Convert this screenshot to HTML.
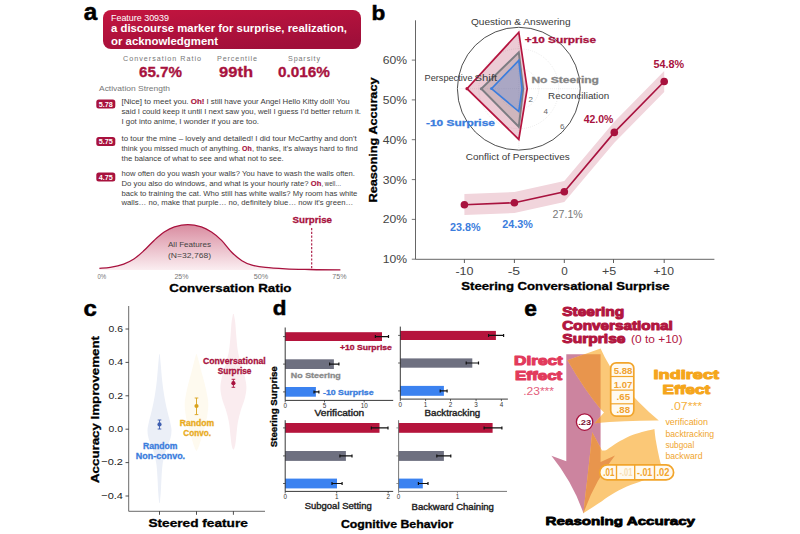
<!DOCTYPE html>
<html>
<head>
<meta charset="utf-8">
<title>Figure</title>
<style>
html,body{margin:0;padding:0;background:#fff;}
body{width:800px;height:534px;overflow:hidden;font-family:"Liberation Sans",sans-serif;}
svg{display:block;}
text{font-family:"Liberation Sans",sans-serif;}
.b{font-weight:bold;}
.tx{fill:#3c3c3c;font-size:7.2px;}
.cr{fill:#a8123e;}
.bl{fill:#3b7ddd;}
.gy{fill:#777;}
.dk{fill:#222;}
.lt{fill:#3a3a3a;}
.ye{fill:#e9ab1e;}
.s85{font-size:9.6px;}
.ax{fill:#444;}
.pl{font-weight:bold;font-size:25px;fill:#000;stroke:#000;stroke-width:.5px;}
.cr.b{stroke:#a8123e;stroke-width:.3px;}
.bl.b{stroke:#3b7ddd;stroke-width:.3px;}
.ye.b{stroke:#e9ab1e;stroke-width:.3px;}
.pb{font-weight:bold;}
.hb{font-weight:bold;stroke:#000;stroke-width:.3px;}
.tx.cr.b{stroke-width:.15px;}
</style>
</head>
<body>
<svg width="800" height="534" viewBox="0 0 800 534">
<defs>
<linearGradient id="gban" x1="0" y1="0" x2="0.6" y2="1">
<stop offset="0" stop-color="#c4153f"/><stop offset="1" stop-color="#a00f3a"/>
</linearGradient>
<linearGradient id="gbell" x1="0" y1="0" x2="0" y2="1">
<stop offset="0" stop-color="#d98ca0"/><stop offset="1" stop-color="#fbeef1"/>
</linearGradient>
</defs>
<rect x="0" y="0" width="800" height="534" fill="#fff"/>

<!-- ===== PANEL A ===== -->
<g id="pa">
<text x="83.8" y="19.6" class="pl" style="font-size:23px" textLength="13.5" lengthAdjust="spacingAndGlyphs">a</text>
<rect x="103" y="10" width="258" height="39" rx="8" fill="url(#gban)"/>
<text x="111" y="20.7" font-size="8.4" fill="#fff" textLength="58" lengthAdjust="spacingAndGlyphs">Feature 30939</text>
<text x="111" y="32" font-size="10" fill="#fff" class="b" textLength="236" lengthAdjust="spacingAndGlyphs">a discourse marker for surprise, realization,</text>
<text x="111" y="44.5" font-size="10" fill="#fff" class="b" textLength="107" lengthAdjust="spacingAndGlyphs">or acknowledgment</text>

<text x="123" y="61" font-size="7.2" class="gy" textLength="78" lengthAdjust="spacing">Conversation Ratio</text>
<text x="217" y="61" font-size="7.2" class="gy" textLength="40" lengthAdjust="spacing">Percentile</text>
<text x="288" y="61" font-size="7.2" class="gy" textLength="32" lengthAdjust="spacing">Sparsity</text>
<text x="139" y="77" font-size="14" class="cr b" textLength="43" lengthAdjust="spacingAndGlyphs">65.7%</text>
<text x="219" y="77" font-size="14" class="cr b" textLength="34" lengthAdjust="spacingAndGlyphs">99th</text>
<text x="278" y="77" font-size="14" class="cr b" textLength="52" lengthAdjust="spacingAndGlyphs">0.016%</text>
<text x="99" y="90.5" font-size="7.2" class="gy" textLength="71" lengthAdjust="spacingAndGlyphs">Activation Strength</text>
<rect x="96.3" y="99.6" width="19" height="9" rx="2.5" fill="#a8123e"/>
<text x="98.8" y="106.7" font-size="7.4" class="b" fill="#fff" textLength="14" lengthAdjust="spacingAndGlyphs">5.78</text>
<rect x="96.3" y="137.0" width="19" height="9" rx="2.5" fill="#a8123e"/>
<text x="98.8" y="144.1" font-size="7.4" class="b" fill="#fff" textLength="14" lengthAdjust="spacingAndGlyphs">5.75</text>
<rect x="96.3" y="172.4" width="19" height="9" rx="2.5" fill="#a8123e"/>
<text x="98.8" y="179.5" font-size="7.4" class="b" fill="#fff" textLength="14" lengthAdjust="spacingAndGlyphs">4.75</text>
<text x="121.5" y="103.7" class="tx" textLength="67.1" lengthAdjust="spacingAndGlyphs">[Nice] to meet you.</text>
<text x="190.8" y="103.7" class="tx cr b" textLength="13.7" lengthAdjust="spacingAndGlyphs">Oh!</text>
<text x="206.5" y="103.7" class="tx" textLength="143.1" lengthAdjust="spacingAndGlyphs">I still have your Angel Hello Kitty doll! You</text>
<text x="121.5" y="114.0" class="tx" textLength="239.5" lengthAdjust="spacingAndGlyphs">said I could keep it until I next saw you, well I guess I'd better return it.</text>
<text x="121.5" y="124.3" class="tx" textLength="137.5" lengthAdjust="spacingAndGlyphs">I got into anime, I wonder if you are too.</text>
<text x="121.5" y="140.5" class="tx" textLength="235.2" lengthAdjust="spacingAndGlyphs">to tour the mine – lovely and detailed! I did tour McCarthy and don't</text>
<text x="121.5" y="150.8" class="tx" textLength="118.5" lengthAdjust="spacingAndGlyphs">think you missed much of anything.</text>
<text x="242.0" y="150.8" class="tx cr b" textLength="9.7" lengthAdjust="spacingAndGlyphs">Oh</text>
<text x="251.9" y="150.8" class="tx" textLength="105.9" lengthAdjust="spacingAndGlyphs">, thanks, it's always hard to find</text>
<text x="121.5" y="161.0" class="tx" textLength="162.1" lengthAdjust="spacingAndGlyphs">the balance of what to see and what not to see.</text>
<text x="121.5" y="176.3" class="tx" textLength="233.5" lengthAdjust="spacingAndGlyphs">how often do you wash your walls? You have to wash the walls often.</text>
<text x="121.5" y="186.0" class="tx" textLength="187.1" lengthAdjust="spacingAndGlyphs">Do you also do windows, and what is your hourly rate?</text>
<text x="310.8" y="186.0" class="tx cr b" textLength="10.5" lengthAdjust="spacingAndGlyphs">Oh</text>
<text x="321.5" y="186.0" class="tx" textLength="19.8" lengthAdjust="spacingAndGlyphs">, well…</text>
<text x="121.5" y="195.7" class="tx" textLength="235.9" lengthAdjust="spacingAndGlyphs">back to training the cat. Who still has white walls? My room has white</text>
<text x="121.5" y="205.4" class="tx" textLength="231.7" lengthAdjust="spacingAndGlyphs">walls… no, make that purple… no, definitely blue… now it's green…</text>
<path d="M99.4,268.4 C101.2,268.2 106.2,268.1 110.2,267.4 C114.2,266.7 119.8,265.5 123.7,264.1 C127.7,262.7 130.5,261.2 133.9,259.0 C137.3,256.8 140.6,253.7 144.0,250.6 C147.4,247.5 150.7,243.5 154.1,240.4 C157.5,237.3 160.8,234.2 164.2,232.0 C167.6,229.8 170.4,228.1 174.4,226.9 C178.4,225.7 183.4,224.6 187.9,224.6 C192.4,224.6 197.5,225.7 201.4,226.9 C205.3,228.1 208.1,229.8 211.5,232.0 C214.9,234.2 218.2,237.0 221.6,240.4 C225.0,243.8 228.3,248.8 231.7,252.2 C235.1,255.6 238.5,258.5 241.9,260.7 C245.3,262.9 248.1,264.0 252.0,265.1 C255.9,266.2 259.9,266.8 265.5,267.4 C271.1,268.0 278.4,268.4 285.7,268.8 C293.0,269.2 300.3,269.3 309.4,269.5 C318.5,269.7 335.2,269.8 340.4,269.8 L340.4,270 L99.4,270 Z" fill="url(#gbell)"/>
<path d="M99.4,268.4 C101.2,268.2 106.2,268.1 110.2,267.4 C114.2,266.7 119.8,265.5 123.7,264.1 C127.7,262.7 130.5,261.2 133.9,259.0 C137.3,256.8 140.6,253.7 144.0,250.6 C147.4,247.5 150.7,243.5 154.1,240.4 C157.5,237.3 160.8,234.2 164.2,232.0 C167.6,229.8 170.4,228.1 174.4,226.9 C178.4,225.7 183.4,224.6 187.9,224.6 C192.4,224.6 197.5,225.7 201.4,226.9 C205.3,228.1 208.1,229.8 211.5,232.0 C214.9,234.2 218.2,237.0 221.6,240.4 C225.0,243.8 228.3,248.8 231.7,252.2 C235.1,255.6 238.5,258.5 241.9,260.7 C245.3,262.9 248.1,264.0 252.0,265.1 C255.9,266.2 259.9,266.8 265.5,267.4 C271.1,268.0 278.4,268.4 285.7,268.8 C293.0,269.2 300.3,269.3 309.4,269.5 C318.5,269.7 335.2,269.8 340.4,269.8" fill="none" stroke="#a8123e" stroke-width="1.3"/>
<line x1="311.7" y1="228" x2="311.7" y2="270" stroke="#a8123e" stroke-width="1.1" stroke-dasharray="2.2,1.6"/>
<text x="292.5" y="222.6" class="cr b s85" textLength="39.5" lengthAdjust="spacingAndGlyphs">Surprise</text>
<text x="189.5" y="246.8" font-size="7" fill="#444" text-anchor="middle" textLength="43" lengthAdjust="spacingAndGlyphs">All Features</text>
<text x="189.5" y="257.6" font-size="7" fill="#444" text-anchor="middle" textLength="43" lengthAdjust="spacingAndGlyphs">(N=32,768)</text>
<text x="97.4" y="279.3" font-size="6.6" class="gy" textLength="8.8" lengthAdjust="spacingAndGlyphs">0%</text>
<text x="174.4" y="279.3" font-size="6.6" class="gy" textLength="14.1" lengthAdjust="spacingAndGlyphs">25%</text>
<text x="253.7" y="279.3" font-size="6.6" class="gy" textLength="14.5" lengthAdjust="spacingAndGlyphs">50%</text>
<text x="332.3" y="279.3" font-size="6.6" class="gy" textLength="14.2" lengthAdjust="spacingAndGlyphs">75%</text>
<text x="169.3" y="291.7" font-size="11.5" class="hb" fill="#000" textLength="122.2" lengthAdjust="spacingAndGlyphs">Conversation Ratio</text>
</g>

<!-- ===== PANEL B ===== -->
<g id="pb">
<text x="371.5" y="20.1" style="font-size:20.6px" class="pl" textLength="13.8" lengthAdjust="spacingAndGlyphs">b</text>
<path d="M415.5,20.3 V259.3 H714.4" fill="none" stroke="#555" stroke-width="0.9"/>
<line x1="411.8" y1="259.2" x2="415.5" y2="259.2" stroke="#555" stroke-width="0.8"/>
<text x="382.7" y="263.2" font-size="10.8" class="ax" textLength="24.3" lengthAdjust="spacingAndGlyphs">10%</text>
<line x1="411.8" y1="219.4" x2="415.5" y2="219.4" stroke="#555" stroke-width="0.8"/>
<text x="382.7" y="223.4" font-size="10.8" class="ax" textLength="24.3" lengthAdjust="spacingAndGlyphs">20%</text>
<line x1="411.8" y1="179.6" x2="415.5" y2="179.6" stroke="#555" stroke-width="0.8"/>
<text x="382.7" y="183.6" font-size="10.8" class="ax" textLength="24.3" lengthAdjust="spacingAndGlyphs">30%</text>
<line x1="411.8" y1="139.7" x2="415.5" y2="139.7" stroke="#555" stroke-width="0.8"/>
<text x="382.7" y="143.7" font-size="10.8" class="ax" textLength="24.3" lengthAdjust="spacingAndGlyphs">40%</text>
<line x1="411.8" y1="99.9" x2="415.5" y2="99.9" stroke="#555" stroke-width="0.8"/>
<text x="382.7" y="103.9" font-size="10.8" class="ax" textLength="24.3" lengthAdjust="spacingAndGlyphs">50%</text>
<line x1="411.8" y1="60.1" x2="415.5" y2="60.1" stroke="#555" stroke-width="0.8"/>
<text x="382.7" y="64.1" font-size="10.8" class="ax" textLength="24.3" lengthAdjust="spacingAndGlyphs">60%</text>
<line x1="464.4" y1="259.5" x2="464.4" y2="263" stroke="#333" stroke-width="0.8"/>
<text x="455.4" y="275.3" font-size="10" class="ax" textLength="18.1" lengthAdjust="spacingAndGlyphs">-10</text>
<line x1="514.4" y1="259.5" x2="514.4" y2="263" stroke="#333" stroke-width="0.8"/>
<text x="507.7" y="275.3" font-size="10" class="ax" textLength="12.5" lengthAdjust="spacingAndGlyphs">-5</text>
<line x1="564.3" y1="259.5" x2="564.3" y2="263" stroke="#333" stroke-width="0.8"/>
<text x="561.3" y="275.3" font-size="10" class="ax" textLength="6.5" lengthAdjust="spacingAndGlyphs">0</text>
<line x1="613.5" y1="259.5" x2="613.5" y2="263" stroke="#333" stroke-width="0.8"/>
<text x="602.0" y="275.3" font-size="10" class="ax" textLength="14.3" lengthAdjust="spacingAndGlyphs">+5</text>
<line x1="664.2" y1="259.5" x2="664.2" y2="263" stroke="#333" stroke-width="0.8"/>
<text x="653.4" y="275.3" font-size="10" class="ax" textLength="20.6" lengthAdjust="spacingAndGlyphs">+10</text>
<text x="461.3" y="290.0" font-size="10.5" class="hb" textLength="208.3" lengthAdjust="spacingAndGlyphs">Steering Conversational Surprise</text>
<text transform="translate(377.3,202.5) rotate(-90)" font-size="10.5" class="hb" textLength="125" lengthAdjust="spacingAndGlyphs">Reasoning Accuracy</text>
<polygon points="464.4,194.1 514.4,192.1 564.3,181.1 614.3,121.8 664.2,70.9 664.2,91.9 614.3,142.8 564.3,202.1 514.4,213.1 464.4,215.1" fill="#f1d5dc"/>
<polyline points="464.4,204.7 514.4,202.7 564.3,191.7 614.3,132.4 664.2,81.5" fill="none" stroke="#a8123e" stroke-width="1.6"/>
<circle cx="464.4" cy="204.7" r="3.8" fill="#a8123e"/>
<circle cx="514.4" cy="202.7" r="3.8" fill="#a8123e"/>
<circle cx="564.3" cy="191.7" r="3.8" fill="#a8123e"/>
<circle cx="614.3" cy="132.4" r="3.8" fill="#a8123e"/>
<circle cx="664.2" cy="81.5" r="3.8" fill="#a8123e"/>
<text x="450.0" y="230.9" font-size="10.4" class="bl pb" textLength="30.6" lengthAdjust="spacingAndGlyphs">23.8%</text>
<text x="502.2" y="227.9" font-size="10.4" class="bl pb" textLength="30.6" lengthAdjust="spacingAndGlyphs">24.3%</text>
<text x="552.6" y="218.4" font-size="10.4" class="gy" textLength="30.2" lengthAdjust="spacingAndGlyphs">27.1%</text>
<text x="583.7" y="123.0" font-size="10.4" class="cr pb" textLength="29.7" lengthAdjust="spacingAndGlyphs">42.0%</text>
<text x="653.4" y="68.1" font-size="10.4" class="cr pb" textLength="30.6" lengthAdjust="spacingAndGlyphs">54.8%</text>
<circle cx="518.8" cy="88.7" r="61.4" fill="#fff" stroke="#222" stroke-width="0.8"/>
<circle cx="518.8" cy="88.7" r="20" fill="none" stroke="#d0d0d0" stroke-width="0.5" stroke-dasharray="0.8,1.3"/>
<circle cx="518.8" cy="88.7" r="40" fill="none" stroke="#d0d0d0" stroke-width="0.5" stroke-dasharray="0.8,1.3"/>
<path d="M457.4,88.7 H580.2 M518.8,27.3 V150.1" stroke="#d0d0d0" stroke-width="0.5" stroke-dasharray="0.8,1.3" fill="none"/>
<text x="424.5" y="80.6" font-size="9" class="dk lt" textLength="48.0" lengthAdjust="spacingAndGlyphs">Perspective</text>
<polygon points="518.8,32.3 527.2,88.7 518.8,139.4 467,88.7" fill="#a8123e" fill-opacity="0.22" stroke="#b5143f" stroke-width="1.7" stroke-linejoin="miter"/>
<polygon points="518.8,52.4 523.2,88.7 518.8,126.8 481.3,88.7" fill="#777" fill-opacity="0.25" stroke="#7c7c82" stroke-width="2"/>
<polygon points="518.8,60.4 522,88.7 518.8,111.5 491.5,88.7" fill="#3b7ddd" fill-opacity="0.25" stroke="#3b7ddd" stroke-width="1.6"/>
<text x="474.5" y="80.6" font-size="9" class="lt" textLength="22.7" lengthAdjust="spacingAndGlyphs" fill="#fbf3f5">Shift</text>
<circle cx="467" cy="88.7" r="1.6" fill="#b5143f"/><circle cx="481.3" cy="88.7" r="1.5" fill="#7c7c82"/><circle cx="491.5" cy="88.7" r="1.4" fill="#3b7ddd"/>
<text x="470.9" y="24.6" font-size="9" class="dk lt" textLength="99.7" lengthAdjust="spacingAndGlyphs">Question &amp; Answering</text>
<text x="548.1" y="98.5" font-size="9" class="dk lt" textLength="61.1" lengthAdjust="spacingAndGlyphs">Reconciliation</text>
<text x="465.8" y="160.0" font-size="9" class="dk lt" textLength="103.9" lengthAdjust="spacingAndGlyphs">Conflict of Perspectives</text>
<text x="524.8" y="43.0" font-size="9" class="cr b" textLength="71.2" lengthAdjust="spacingAndGlyphs">+10 Surprise</text>
<text x="531.4" y="82.7" font-size="9" class="b" textLength="67.6" lengthAdjust="spacingAndGlyphs" fill="#858585" stroke="#858585" stroke-width="0.3">No Steering</text>
<text x="426.0" y="125.5" font-size="9" class="bl b" textLength="68.9" lengthAdjust="spacingAndGlyphs">-10 Surprise</text>
<text x="530.8" y="101.7" font-size="8" fill="#666" text-anchor="middle">2</text>
<text x="545.7" y="114.3" font-size="8" fill="#666" text-anchor="middle">4</text>
<text x="562.2" y="128.7" font-size="8" fill="#666" text-anchor="middle">6</text>
</g>

<!-- ===== PANEL C ===== -->
<g id="pc">
<text x="83.6" y="316.2" font-size="22.5" class="pl" textLength="13.3" lengthAdjust="spacingAndGlyphs" style="font-size:22.5px">c</text>
<path d="M159.2,354.3 C159.0,356.1 158.6,360.7 158.2,365.0 C157.8,369.3 157.4,375.0 156.9,380.0 C156.4,385.0 155.7,390.0 154.9,395.0 C154.1,400.0 152.9,405.5 151.9,410.0 C150.9,414.5 149.6,418.7 148.9,422.0 C148.2,425.3 147.6,427.3 147.5,430.0 C147.4,432.7 147.8,435.3 148.5,438.0 C149.2,440.7 150.5,443.2 151.5,446.0 C152.5,448.8 153.7,451.8 154.5,455.0 C155.3,458.2 156.0,461.2 156.5,465.0 C157.0,468.8 157.2,473.5 157.5,478.0 C157.8,482.5 157.9,487.8 158.2,492.0 C158.5,496.2 159.0,501.2 159.2,503.0 L159.8,503.0 C160.0,501.2 160.5,496.2 160.8,492.0 C161.1,487.8 161.2,482.5 161.5,478.0 C161.8,473.5 162.0,468.8 162.5,465.0 C163.0,461.2 163.7,458.2 164.5,455.0 C165.3,451.8 166.5,448.8 167.5,446.0 C168.5,443.2 169.8,440.7 170.5,438.0 C171.2,435.3 171.6,432.7 171.5,430.0 C171.4,427.3 170.8,425.3 170.1,422.0 C169.4,418.7 168.1,414.5 167.1,410.0 C166.1,405.5 164.9,400.0 164.1,395.0 C163.3,390.0 162.6,385.0 162.1,380.0 C161.6,375.0 161.2,369.3 160.8,365.0 C160.4,360.7 160.0,356.1 159.8,354.3 Z" fill="#ebeff7"/>
<path d="M196.1,354.3 C195.8,355.6 194.8,359.1 194.0,362.0 C193.2,364.9 192.5,368.2 191.5,372.0 C190.5,375.8 189.0,380.8 188.0,385.0 C187.0,389.2 186.1,393.5 185.5,397.0 C184.9,400.5 184.6,402.7 184.7,406.0 C184.8,409.3 185.4,413.3 186.0,417.0 C186.6,420.7 187.6,424.5 188.5,428.0 C189.4,431.5 190.6,435.0 191.5,438.0 C192.4,441.0 193.2,443.9 194.0,446.0 C194.8,448.1 195.8,450.0 196.2,450.8 L196.8,450.8 C197.2,450.0 198.2,448.1 199.0,446.0 C199.8,443.9 200.6,441.0 201.5,438.0 C202.4,435.0 203.6,431.5 204.5,428.0 C205.4,424.5 206.4,420.7 207.0,417.0 C207.6,413.3 208.2,409.3 208.3,406.0 C208.4,402.7 208.1,400.5 207.5,397.0 C206.9,393.5 206.0,389.2 205.0,385.0 C204.0,380.8 202.5,375.8 201.5,372.0 C200.5,368.2 199.8,364.9 199.0,362.0 C198.2,359.1 197.2,355.6 196.9,354.3 Z" fill="#fefaef"/>
<path d="M233.0,314.0 C232.8,315.3 232.0,318.5 231.6,322.0 C231.2,325.5 231.0,330.3 230.6,335.0 C230.2,339.7 229.8,345.5 229.1,350.0 C228.4,354.5 227.5,357.8 226.4,362.0 C225.3,366.2 223.4,370.8 222.4,375.0 C221.4,379.2 220.5,383.2 220.4,387.0 C220.3,390.8 221.0,394.2 221.9,398.0 C222.8,401.8 224.7,406.0 225.9,410.0 C227.1,414.0 228.2,417.8 228.9,422.0 C229.7,426.2 230.0,431.2 230.4,435.0 C230.8,438.8 231.2,442.6 231.6,445.0 C232.0,447.4 232.8,448.8 233.1,449.6 L233.7,449.6 C234.0,448.8 234.8,447.4 235.2,445.0 C235.7,442.6 236.0,438.8 236.4,435.0 C236.8,431.2 237.2,426.2 237.9,422.0 C238.7,417.8 239.7,414.0 240.9,410.0 C242.1,406.0 244.0,401.8 244.9,398.0 C245.8,394.2 246.5,390.8 246.4,387.0 C246.3,383.2 245.4,379.2 244.4,375.0 C243.4,370.8 241.5,366.2 240.4,362.0 C239.3,357.8 238.4,354.5 237.7,350.0 C237.0,345.5 236.6,339.7 236.2,335.0 C235.8,330.3 235.6,325.5 235.2,322.0 C234.8,318.5 234.0,315.3 233.8,314.0 Z" fill="#faecef"/>
<path d="M128.7,306 V511.3 H265" fill="none" stroke="#444" stroke-width="0.8"/>
<line x1="125.5" y1="329.0" x2="128.7" y2="329.0" stroke="#222" stroke-width="0.8"/>
<text x="108.6" y="331.8" font-size="9.6" class="dk" textLength="14.4" lengthAdjust="spacingAndGlyphs">0.6</text>
<line x1="125.5" y1="362.4" x2="128.7" y2="362.4" stroke="#222" stroke-width="0.8"/>
<text x="108.6" y="365.2" font-size="9.6" class="dk" textLength="14.4" lengthAdjust="spacingAndGlyphs">0.4</text>
<line x1="125.5" y1="395.8" x2="128.7" y2="395.8" stroke="#222" stroke-width="0.8"/>
<text x="108.6" y="398.6" font-size="9.6" class="dk" textLength="14.4" lengthAdjust="spacingAndGlyphs">0.2</text>
<line x1="125.5" y1="429.2" x2="128.7" y2="429.2" stroke="#222" stroke-width="0.8"/>
<text x="108.6" y="432.0" font-size="9.6" class="dk" textLength="14.4" lengthAdjust="spacingAndGlyphs">0.0</text>
<line x1="125.5" y1="462.6" x2="128.7" y2="462.6" stroke="#222" stroke-width="0.8"/>
<text x="101.3" y="465.4" font-size="9.6" class="dk" textLength="21.7" lengthAdjust="spacingAndGlyphs">−0.2</text>
<line x1="125.5" y1="496.0" x2="128.7" y2="496.0" stroke="#222" stroke-width="0.8"/>
<text x="101.3" y="498.8" font-size="9.6" class="dk" textLength="21.7" lengthAdjust="spacingAndGlyphs">−0.4</text>
<line x1="159.5" y1="511.3" x2="159.5" y2="514.8" stroke="#222" stroke-width="0.8"/>
<line x1="196.5" y1="511.3" x2="196.5" y2="514.8" stroke="#222" stroke-width="0.8"/>
<line x1="233.4" y1="511.3" x2="233.4" y2="514.8" stroke="#222" stroke-width="0.8"/>
<text transform="translate(98.6,483) rotate(-90)" font-size="11" class="hb" textLength="147" lengthAdjust="spacingAndGlyphs">Accuracy Improvement</text>
<text x="148.4" y="526.7" font-size="10.5" class="hb" textLength="99.4" lengthAdjust="spacingAndGlyphs">Steered feature</text>
<line x1="159.5" y1="420.0" x2="159.5" y2="429.0" stroke="#3f5fb0" stroke-width="0.9"/><line x1="157.7" y1="420.0" x2="161.3" y2="420.0" stroke="#3f5fb0" stroke-width="0.9"/><line x1="157.7" y1="429.0" x2="161.3" y2="429.0" stroke="#3f5fb0" stroke-width="0.9"/><circle cx="159.5" cy="424.4" r="2.1" fill="#3f5fb0"/>
<line x1="196.5" y1="398.0" x2="196.5" y2="414.6" stroke="#d9a21c" stroke-width="0.9"/><line x1="194.7" y1="398.0" x2="198.3" y2="398.0" stroke="#d9a21c" stroke-width="0.9"/><line x1="194.7" y1="414.6" x2="198.3" y2="414.6" stroke="#d9a21c" stroke-width="0.9"/><circle cx="196.5" cy="406.0" r="2.1" fill="#d9a21c"/>
<line x1="233.4" y1="379.3" x2="233.4" y2="387.3" stroke="#a8123e" stroke-width="0.9"/><line x1="231.6" y1="379.3" x2="235.2" y2="379.3" stroke="#a8123e" stroke-width="0.9"/><line x1="231.6" y1="387.3" x2="235.2" y2="387.3" stroke="#a8123e" stroke-width="0.9"/><circle cx="233.4" cy="383.2" r="2.1" fill="#a8123e"/>
<text x="143.0" y="448.5" font-size="8.4" class="bl b" textLength="34.5" lengthAdjust="spacingAndGlyphs">Random</text>
<text x="135.8" y="458.8" font-size="8.4" class="bl b" textLength="49.3" lengthAdjust="spacingAndGlyphs">Non-convo.</text>
<text x="179.7" y="426.1" font-size="8.4" class="ye b" textLength="34.5" lengthAdjust="spacingAndGlyphs">Random</text>
<text x="183.3" y="435.7" font-size="8.4" class="ye b" textLength="27.7" lengthAdjust="spacingAndGlyphs">Convo.</text>
<text x="203.0" y="364.0" font-size="8.4" class="cr b" textLength="62.7" lengthAdjust="spacingAndGlyphs">Conversational</text>
<text x="217.8" y="373.8" font-size="8.4" class="cr b" textLength="33.6" lengthAdjust="spacingAndGlyphs">Surprise</text>
</g>

<!-- ===== PANEL D ===== -->
<g id="pd">
<text x="272.8" y="315.0" font-size="20.5" class="pl" textLength="13.7" lengthAdjust="spacingAndGlyphs" style="font-size:20.5px">d</text>
<text transform="translate(276.6,447.3) rotate(-90)" font-size="9.2" class="hb" textLength="81" lengthAdjust="spacingAndGlyphs">Steering Surprise</text>
<text x="340.9" y="528.0" font-size="10.3" class="hb" textLength="112.3" lengthAdjust="spacingAndGlyphs">Cognitive Behavior</text>
<rect x="285.2" y="332.2" width="96.8" height="8.8" fill="#b5143c"/>
<path d="M375.4,336.6 H388.5 M375.4,335.1 V338.1 M388.5,335.1 V338.1" stroke="#111" stroke-width="1.2" fill="none"/>
<line x1="283.0" y1="336.6" x2="285.2" y2="336.6" stroke="#222" stroke-width="0.7"/>
<rect x="285.2" y="359.3" width="48.7" height="9.7" fill="#6e7080"/>
<path d="M329.6,364.1 H338.9 M329.6,362.6 V365.6 M338.9,362.6 V365.6" stroke="#111" stroke-width="1.2" fill="none"/>
<line x1="283.0" y1="364.1" x2="285.2" y2="364.1" stroke="#222" stroke-width="0.7"/>
<rect x="285.2" y="387.0" width="30.7" height="9.7" fill="#3b82f0"/>
<path d="M314.0,391.9 H318.9 M314.0,390.4 V393.4 M318.9,390.4 V393.4" stroke="#111" stroke-width="1.2" fill="none"/>
<line x1="283.0" y1="391.9" x2="285.2" y2="391.9" stroke="#222" stroke-width="0.7"/>
<path d="M285.2,327.5 V400.4 H393.2" fill="none" stroke="#222" stroke-width="0.9"/>
<line x1="285.2" y1="400.4" x2="285.2" y2="402.4" stroke="#222" stroke-width="0.7"/>
<text x="285.2" y="407.8" font-size="6.3" fill="#333" text-anchor="middle">0</text>
<line x1="324.5" y1="400.4" x2="324.5" y2="402.4" stroke="#222" stroke-width="0.7"/>
<text x="324.5" y="407.8" font-size="6.3" fill="#333" text-anchor="middle">5</text>
<line x1="364.2" y1="400.4" x2="364.2" y2="402.4" stroke="#222" stroke-width="0.7"/>
<text x="364.2" y="407.8" font-size="6.3" fill="#333" text-anchor="middle">10</text>
<text x="314.6" y="416.4" font-size="8.2" class="dk" textLength="49.6" lengthAdjust="spacingAndGlyphs" stroke="#222" stroke-width="0.35">Verification</text>
<rect x="400.3" y="330.9" width="95.6" height="9.1" fill="#b5143c"/>
<path d="M488.6,335.4 H503.6 M488.6,333.9 V336.9 M503.6,333.9 V336.9" stroke="#111" stroke-width="1.2" fill="none"/>
<line x1="398.1" y1="335.4" x2="400.3" y2="335.4" stroke="#222" stroke-width="0.7"/>
<rect x="400.3" y="358.4" width="72.0" height="9.3" fill="#6e7080"/>
<path d="M466.2,363.0 H478.5 M466.2,361.5 V364.5 M478.5,361.5 V364.5" stroke="#111" stroke-width="1.2" fill="none"/>
<line x1="398.1" y1="363.0" x2="400.3" y2="363.0" stroke="#222" stroke-width="0.7"/>
<rect x="400.3" y="385.9" width="43.6" height="9.9" fill="#3b82f0"/>
<path d="M440.2,390.9 H447.1 M440.2,389.4 V392.4 M447.1,389.4 V392.4" stroke="#111" stroke-width="1.2" fill="none"/>
<line x1="398.1" y1="390.9" x2="400.3" y2="390.9" stroke="#222" stroke-width="0.7"/>
<path d="M400.3,326.6 V399.1 H507.9" fill="none" stroke="#222" stroke-width="0.9"/>
<line x1="400.3" y1="399.1" x2="400.3" y2="401.1" stroke="#222" stroke-width="0.7"/>
<text x="400.3" y="407.3" font-size="6.3" fill="#333" text-anchor="middle">0</text>
<line x1="425.6" y1="399.1" x2="425.6" y2="401.1" stroke="#222" stroke-width="0.7"/>
<text x="425.6" y="407.3" font-size="6.3" fill="#333" text-anchor="middle">1</text>
<line x1="450.5" y1="399.1" x2="450.5" y2="401.1" stroke="#222" stroke-width="0.7"/>
<text x="450.5" y="407.3" font-size="6.3" fill="#333" text-anchor="middle">2</text>
<line x1="476.1" y1="399.1" x2="476.1" y2="401.1" stroke="#222" stroke-width="0.7"/>
<text x="476.1" y="407.3" font-size="6.3" fill="#333" text-anchor="middle">3</text>
<line x1="501.4" y1="399.1" x2="501.4" y2="401.1" stroke="#222" stroke-width="0.7"/>
<text x="501.4" y="407.3" font-size="6.3" fill="#333" text-anchor="middle">4</text>
<text x="424.6" y="415.8" font-size="8.2" class="dk" textLength="55.6" lengthAdjust="spacingAndGlyphs" stroke="#222" stroke-width="0.35">Backtracking</text>
<rect x="285.2" y="423.0" width="94.3" height="9.8" fill="#b5143c"/>
<path d="M371.3,427.9 H388.0 M371.3,426.4 V429.4 M388.0,426.4 V429.4" stroke="#111" stroke-width="1.2" fill="none"/>
<line x1="283.0" y1="427.9" x2="285.2" y2="427.9" stroke="#222" stroke-width="0.7"/>
<rect x="285.2" y="451.0" width="60.7" height="9.9" fill="#6e7080"/>
<path d="M339.9,455.9 H352.0 M339.9,454.4 V457.4 M352.0,454.4 V457.4" stroke="#111" stroke-width="1.2" fill="none"/>
<line x1="283.0" y1="455.9" x2="285.2" y2="455.9" stroke="#222" stroke-width="0.7"/>
<rect x="285.2" y="478.6" width="51.8" height="9.8" fill="#3b82f0"/>
<path d="M332.0,483.5 H342.1 M332.0,482.0 V485.0 M342.1,482.0 V485.0" stroke="#111" stroke-width="1.2" fill="none"/>
<line x1="283.0" y1="483.5" x2="285.2" y2="483.5" stroke="#222" stroke-width="0.7"/>
<path d="M285.2,420.2 V491.4 H393.2" fill="none" stroke="#222" stroke-width="0.9"/>
<line x1="285.2" y1="491.4" x2="285.2" y2="493.4" stroke="#222" stroke-width="0.7"/>
<text x="285.2" y="499.4" font-size="6.3" fill="#333" text-anchor="middle">0</text>
<line x1="336.7" y1="491.4" x2="336.7" y2="493.4" stroke="#222" stroke-width="0.7"/>
<text x="336.7" y="499.4" font-size="6.3" fill="#333" text-anchor="middle">1</text>
<line x1="388.2" y1="491.4" x2="388.2" y2="493.4" stroke="#222" stroke-width="0.7"/>
<text x="388.2" y="499.4" font-size="6.3" fill="#333" text-anchor="middle">2</text>
<text x="304.7" y="509.1" font-size="8.2" class="dk" textLength="67.0" lengthAdjust="spacingAndGlyphs" stroke="#222" stroke-width="0.35">Subgoal Setting</text>
<rect x="398.6" y="423.0" width="94.0" height="9.8" fill="#b5143c"/>
<path d="M484.1,427.9 H501.9 M484.1,426.4 V429.4 M501.9,426.4 V429.4" stroke="#111" stroke-width="1.2" fill="none"/>
<line x1="396.4" y1="427.9" x2="398.6" y2="427.9" stroke="#666" stroke-width="0.7"/>
<rect x="398.6" y="451.0" width="45.3" height="9.9" fill="#6e7080"/>
<path d="M436.8,455.9 H450.8 M436.8,454.4 V457.4 M450.8,454.4 V457.4" stroke="#111" stroke-width="1.2" fill="none"/>
<line x1="396.4" y1="455.9" x2="398.6" y2="455.9" stroke="#666" stroke-width="0.7"/>
<rect x="398.6" y="478.6" width="24.2" height="9.8" fill="#3b82f0"/>
<path d="M418.4,483.5 H428.0 M418.4,482.0 V485.0 M428.0,482.0 V485.0" stroke="#111" stroke-width="1.2" fill="none"/>
<line x1="396.4" y1="483.5" x2="398.6" y2="483.5" stroke="#666" stroke-width="0.7"/>
<path d="M398.6,420.2 V491.4 H507.0" fill="none" stroke="#666" stroke-width="0.9"/>
<line x1="398.6" y1="491.4" x2="398.6" y2="493.4" stroke="#666" stroke-width="0.7"/>
<text x="398.6" y="499.4" font-size="6.3" fill="#333" text-anchor="middle">0</text>
<line x1="457.4" y1="491.4" x2="457.4" y2="493.4" stroke="#666" stroke-width="0.7"/>
<text x="457.4" y="499.4" font-size="6.3" fill="#333" text-anchor="middle">1</text>
<text x="411.5" y="510.4" font-size="8.2" class="dk" textLength="82.4" lengthAdjust="spacingAndGlyphs" stroke="#222" stroke-width="0.35">Backward Chaining</text>
<text x="339.9" y="350.0" font-size="7.2" class="cr b" textLength="52.0" lengthAdjust="spacingAndGlyphs">+10 Surprise</text>
<text x="290.8" y="378.1" font-size="7.2" class="b" textLength="50.0" lengthAdjust="spacingAndGlyphs" fill="#8a8a8a" stroke="#8a8a8a" stroke-width="0.3">No Steering</text>
<text x="323.0" y="394.5" font-size="7.2" class="bl b" textLength="50.6" lengthAdjust="spacingAndGlyphs">-10 Surprise</text>
</g>

<!-- ===== PANEL E ===== -->
<g id="pe">
<text x="524.3" y="315.6" font-size="22.7" class="pl" textLength="12.7" lengthAdjust="spacingAndGlyphs" style="font-size:22.7px">e</text>
<clipPath id="cma"><path d="M566.3,354.3 H600.6 V462 L615,455.6 Q594.2,481.8 583.5,513.4 Q572.6,482 551.4,455.8 L566.3,461.2 Z"/></clipPath>
<path d="M566.3,354.3 H600.6 V462 L615,455.6 Q594.2,481.8 583.5,513.4 Q572.6,482 551.4,455.8 L566.3,461.2 Z" fill="#cc849f"/>
<path d="M567.5,360.3 L600.6,348.4 Q616,384 658.8,420.6 Q625,420.5 594.5,423.2 L604,412.6 L601,409.6 Q584.2,389.5 567.5,360.3 Z" fill="#fbc877"/>
<path d="M592.2,432.2 L602,450.5  C602.7,450.4 604.7,450.7 606.0,450.2 C607.3,449.7 607.7,449.0 610.0,447.5 C612.3,446.0 616.0,443.2 620.0,441.0 C624.0,438.8 628.1,436.4 633.8,434.4 C639.5,432.4 651.0,429.8 654.4,428.9  C654.7,431.0 655.1,436.0 656.0,441.3 C656.9,446.6 659.0,456.6 659.9,460.5 C660.8,464.4 661.1,463.9 661.3,464.6  C660.1,466.0 656.9,470.4 654.0,473.0 C651.1,475.6 648.2,478.1 643.7,480.3 C639.2,482.6 632.3,484.1 626.8,486.5 C621.3,488.9 615.6,492.1 610.9,494.9 C606.2,497.7 603.3,500.2 598.7,503.3 C594.1,506.4 586.0,511.6 583.4,513.3  C583.7,510.2 584.7,501.1 585.4,494.9 C586.1,488.7 586.8,483.7 587.6,476.2 C588.5,468.7 589.7,457.3 590.5,450.0 C591.3,442.7 591.9,435.2 592.2,432.2 Z" fill="#fbc877"/>
<g clip-path="url(#cma)"><path d="M567.5,360.3 L600.6,348.4 Q616,384 658.8,420.6 Q625,420.5 594.5,423.2 L604,412.6 L601,409.6 Q584.2,389.5 567.5,360.3 Z" fill="#e8954d"/><path d="M592.2,432.2 L602,450.5  C602.7,450.4 604.7,450.7 606.0,450.2 C607.3,449.7 607.7,449.0 610.0,447.5 C612.3,446.0 616.0,443.2 620.0,441.0 C624.0,438.8 628.1,436.4 633.8,434.4 C639.5,432.4 651.0,429.8 654.4,428.9  C654.7,431.0 655.1,436.0 656.0,441.3 C656.9,446.6 659.0,456.6 659.9,460.5 C660.8,464.4 661.1,463.9 661.3,464.6  C660.1,466.0 656.9,470.4 654.0,473.0 C651.1,475.6 648.2,478.1 643.7,480.3 C639.2,482.6 632.3,484.1 626.8,486.5 C621.3,488.9 615.6,492.1 610.9,494.9 C606.2,497.7 603.3,500.2 598.7,503.3 C594.1,506.4 586.0,511.6 583.4,513.3  C583.7,510.2 584.7,501.1 585.4,494.9 C586.1,488.7 586.8,483.7 587.6,476.2 C588.5,468.7 589.7,457.3 590.5,450.0 C591.3,442.7 591.9,435.2 592.2,432.2 Z" fill="#e8954d"/></g>
<rect x="610.7" y="362.8" width="23.1" height="53.3" rx="5.5" fill="#fffaf0" stroke="#f2a52c" stroke-width="1.7"/>
<line x1="610.7" y1="376.5" x2="633.8" y2="376.5" stroke="#f2a52c" stroke-width="1.2"/>
<line x1="610.7" y1="390.1" x2="633.8" y2="390.1" stroke="#f2a52c" stroke-width="1.2"/>
<line x1="610.7" y1="403.8" x2="633.8" y2="403.8" stroke="#f2a52c" stroke-width="1.2"/>
<text x="613.7" y="374.4" font-size="8.6" class="b" textLength="18.6" lengthAdjust="spacingAndGlyphs" fill="#f0a230">5.88</text>
<text x="613.7" y="388.0" font-size="8.6" class="b" textLength="18.6" lengthAdjust="spacingAndGlyphs" fill="#f0a230">1.07</text>
<text x="616.6" y="400.2" font-size="8.6" class="b" textLength="13.4" lengthAdjust="spacingAndGlyphs" fill="#f0a230">.65</text>
<text x="616.6" y="412.9" font-size="8.6" class="b" textLength="13.4" lengthAdjust="spacingAndGlyphs" fill="#f0a230">.88</text>
<rect x="599.7" y="464.9" width="73.9" height="15" rx="7.5" fill="#fffaf0" stroke="#f2a52c" stroke-width="1.7"/>
<line x1="616.5" y1="464.9" x2="616.5" y2="479.9" stroke="#f2a52c" stroke-width="1.4"/>
<line x1="634.7" y1="464.9" x2="634.7" y2="479.9" stroke="#f2a52c" stroke-width="1.4"/>
<line x1="654.5" y1="464.9" x2="654.5" y2="479.9" stroke="#f2a52c" stroke-width="1.4"/>
<text x="603.3" y="476.0" font-size="10" class="b" textLength="11.2" lengthAdjust="spacingAndGlyphs" fill="#f2a52c">.01</text>
<text x="619.5" y="476.0" font-size="10" class="b" textLength="13.0" lengthAdjust="spacingAndGlyphs" fill="#f7ddb0">-.01</text>
<text x="637.0" y="476.0" font-size="10" class="b" textLength="15.3" lengthAdjust="spacingAndGlyphs" fill="#f2a52c">-.01</text>
<text x="656.5" y="476.0" font-size="10" class="b" textLength="13.0" lengthAdjust="spacingAndGlyphs" fill="#f2a52c">.02</text>
<circle cx="584.6" cy="422.1" r="8.2" fill="#fff" stroke="#a8123e" stroke-width="1.3"/>
<text x="578.2" y="425.0" font-size="7.8" class="b" textLength="13.0" lengthAdjust="spacingAndGlyphs" fill="#7a1030">.23</text>
<text x="562.3" y="316.3" font-size="12.6" class="b" textLength="61.8" lengthAdjust="spacingAndGlyphs" fill="#b2163f" stroke="#b2163f" stroke-width="1.0" stroke-linejoin="round">Steering</text>
<text x="562.3" y="330.1" font-size="12.6" class="b" textLength="110.5" lengthAdjust="spacingAndGlyphs" fill="#b2163f" stroke="#b2163f" stroke-width="1.0" stroke-linejoin="round">Conversational</text>
<text x="562.3" y="343.3" font-size="12.6" class="b" textLength="63.2" lengthAdjust="spacingAndGlyphs" fill="#b2163f" stroke="#b2163f" stroke-width="1.0" stroke-linejoin="round">Surprise</text>
<text x="631.0" y="343.3" font-size="10.6" class="" textLength="51.4" lengthAdjust="spacingAndGlyphs" fill="#b2163f">(0 to +10)</text>
<text x="514.1" y="365.3" font-size="12.6" class="b" textLength="48.7" lengthAdjust="spacingAndGlyphs" fill="#e23a5c" stroke="#e23a5c" stroke-width="1.0" stroke-linejoin="round">Direct</text>
<text x="515.0" y="380.4" font-size="12.6" class="b" textLength="47.3" lengthAdjust="spacingAndGlyphs" fill="#e23a5c" stroke="#e23a5c" stroke-width="1.0" stroke-linejoin="round">Effect</text>
<text x="523.2" y="395.4" font-size="11" class="" textLength="30.8" lengthAdjust="spacingAndGlyphs" fill="#e4607c">.23***</text>
<text x="653.6" y="379.1" font-size="12.6" class="b" textLength="65.4" lengthAdjust="spacingAndGlyphs" fill="#f5a61c" stroke="#f5a61c" stroke-width="1.0" stroke-linejoin="round">Indirect</text>
<text x="662.6" y="393.6" font-size="12.6" class="b" textLength="47.6" lengthAdjust="spacingAndGlyphs" fill="#f5a61c" stroke="#f5a61c" stroke-width="1.0" stroke-linejoin="round">Effect</text>
<text x="670.6" y="409.6" font-size="11" class="" textLength="31.5" lengthAdjust="spacingAndGlyphs" fill="#f5b040">.07***</text>
<text x="665.4" y="425.0" font-size="8.2" class="" textLength="42.6" lengthAdjust="spacingAndGlyphs" fill="#f0a52e">verification</text>
<text x="665.4" y="436.8" font-size="8.2" class="" textLength="48.8" lengthAdjust="spacingAndGlyphs" fill="#f0a52e">backtracking</text>
<text x="665.4" y="447.6" font-size="8.2" class="" textLength="28.9" lengthAdjust="spacingAndGlyphs" fill="#f0a52e">subgoal</text>
<text x="665.4" y="459.2" font-size="8.2" class="" textLength="37.1" lengthAdjust="spacingAndGlyphs" fill="#f0a52e">backward</text>
<text x="545.6" y="525.0" font-size="11.6" class="b" textLength="149.4" lengthAdjust="spacingAndGlyphs" fill="#000" stroke="#000" stroke-width="0.8" stroke-linejoin="round">Reasoning Accuracy</text>
</g>
<!-- ===== END CDE ===== -->

</svg>
</body>
</html>
